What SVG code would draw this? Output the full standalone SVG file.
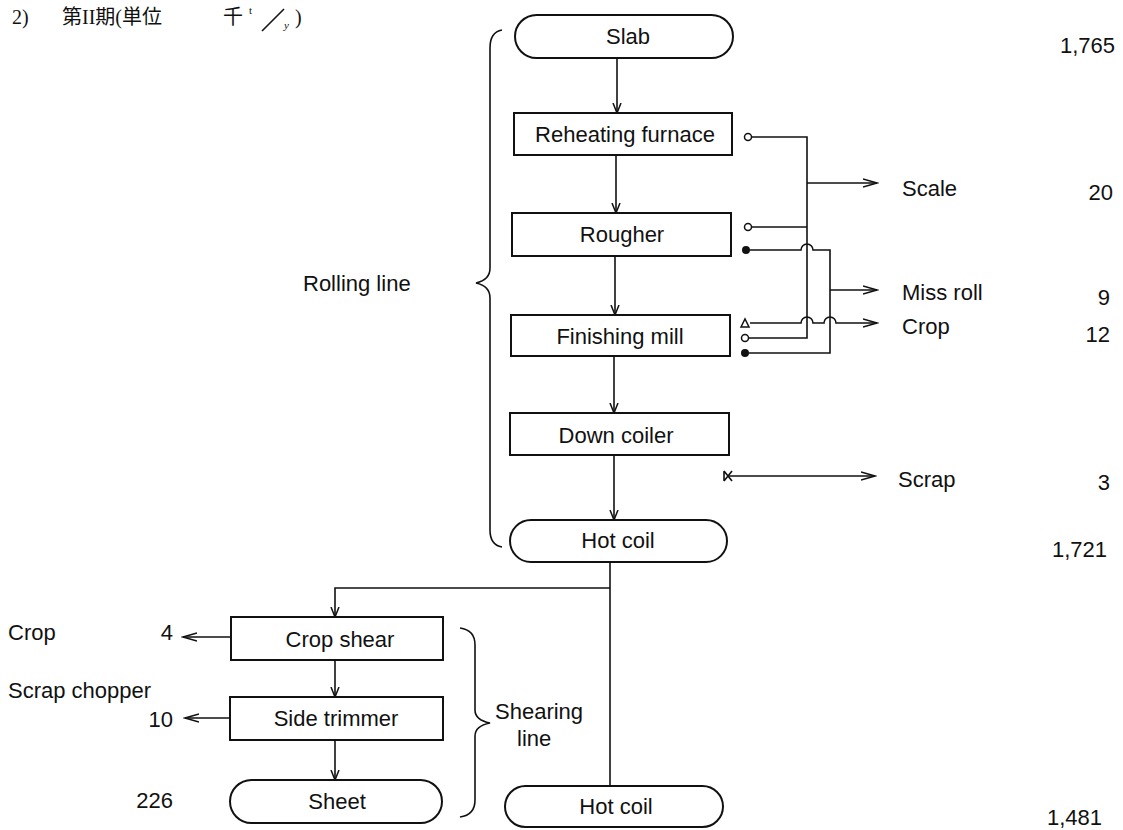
<svg xmlns="http://www.w3.org/2000/svg" width="1123" height="830" viewBox="0 0 1123 830">
<defs>
<style>
.box{fill:#fff;stroke:#111;stroke-width:2}
.ln{fill:none;stroke:#111;stroke-width:1.6}
.t{font-family:"Liberation Sans",Arial,sans-serif;font-size:22px;fill:#111}
.c{text-anchor:middle}
.r{text-anchor:end}
.ti{font-family:"Liberation Serif","Noto Sans CJK JP",serif;font-size:20px;fill:#111}
</style>
<marker id="ah" markerWidth="16" markerHeight="10" refX="14" refY="5" orient="auto" markerUnits="userSpaceOnUse">
<path d="M0,1 L14,5 L0,9" fill="none" stroke="#111" stroke-width="1.5"/>
</marker>
<marker id="ad" markerWidth="12" markerHeight="12" refX="10" refY="5" orient="auto" markerUnits="userSpaceOnUse">
<path d="M0,1 L10,5 L0,9" fill="none" stroke="#111" stroke-width="1.5"/>
</marker>
</defs>
<rect width="1123" height="830" fill="#fff"/>

<g id="title">
<text class="ti" x="12" y="24">2)</text>
<text class="ti" x="62" y="24">第II期(単位</text>
<text class="ti" x="223" y="24">千</text>
<text class="ti" x="249" y="14" style="font-size:11px">t</text>
<path class="ln" d="M262,31 L284,9"/>
<text class="ti" x="284" y="29" style="font-size:11px;font-style:italic">y</text>
<text class="ti" x="295" y="24">)</text>
</g>

<g id="connectors">
<line class="ln" x1="617" y1="58" x2="617" y2="113" marker-end="url(#ad)"/>
<line class="ln" x1="616" y1="155" x2="616" y2="213" marker-end="url(#ad)"/>
<line class="ln" x1="615" y1="256" x2="615" y2="315" marker-end="url(#ad)"/>
<line class="ln" x1="614" y1="356" x2="614" y2="413" marker-end="url(#ad)"/>
<line class="ln" x1="614" y1="455" x2="614" y2="520" marker-end="url(#ad)"/>
<path class="ln" d="M610,562 L610,788"/>
<path class="ln" d="M610,588 L335,588 L335,617" marker-end="url(#ad)"/>
<line class="ln" x1="335" y1="660" x2="335" y2="697" marker-end="url(#ad)"/>
<line class="ln" x1="335" y1="740" x2="335" y2="780" marker-end="url(#ad)"/>
<line class="ln" x1="231" y1="637" x2="183" y2="637" marker-end="url(#ah)"/>
<line class="ln" x1="230" y1="718" x2="185" y2="718" marker-end="url(#ah)"/>
<circle cx="748" cy="137" r="3.5" fill="#fff" stroke="#111" stroke-width="1.5"/>
<circle cx="748" cy="227" r="3.5" fill="#fff" stroke="#111" stroke-width="1.5"/>
<circle cx="746" cy="250" r="4" fill="#111"/>
<path d="M741,327 L745,319 L749,327 Z" fill="#fff" stroke="#111" stroke-width="1.5"/>
<circle cx="745" cy="338" r="3.5" fill="#fff" stroke="#111" stroke-width="1.5"/>
<circle cx="745" cy="353" r="4" fill="#111"/>
<path class="ln" d="M752,137 L807,137 L807,338 L749,338"/>
<path class="ln" d="M752,227 L807,227"/>
<line class="ln" x1="807" y1="183" x2="877" y2="183" marker-end="url(#ah)"/>
<path class="ln" d="M750,250 L801,250 A6,6 0 0 1 813,250 L830,250 L830,353 L749,353"/>
<line class="ln" x1="830" y1="290" x2="877" y2="290" marker-end="url(#ah)"/>
<path class="ln" d="M750,323 L801,323 A6,6 0 0 1 813,323 L824,323 A6,6 0 0 1 836,323 L877,323" marker-end="url(#ah)"/>
<path class="ln" d="M724,471 L732,481 M724,481 L732,471 M724,471 L724,481"/>
<line class="ln" x1="728" y1="476" x2="875" y2="476" marker-end="url(#ah)"/>
<path class="ln" d="M502,30 Q490,32 490,48 L490,268 Q490,280 476,283 Q490,286 490,298 L490,530 Q490,545 502,547"/>
<path class="ln" d="M460,628 Q475,630 475,645 L475,710 Q475,720 490,723 Q475,726 475,736 L475,800 Q475,815 460,817"/>
</g>

<g id="slab"><rect class="box" x="515" y="15" width="218" height="43" rx="21.5"/><text class="t c" x="628" y="44">Slab</text></g>
<g id="reheating"><rect class="box" x="514" y="113" width="218" height="42"/><text class="t c" x="625" y="142">Reheating furnace</text></g>
<g id="rougher"><rect class="box" x="512" y="213" width="219" height="43"/><text class="t c" x="622" y="242">Rougher</text></g>
<g id="finishing"><rect class="box" x="511" y="315" width="219" height="41"/><text class="t c" x="620" y="344">Finishing mill</text></g>
<g id="downcoiler"><rect class="box" x="510" y="413" width="219" height="42"/><text class="t c" x="616" y="443">Down coiler</text></g>
<g id="hotcoil1"><rect class="box" x="510" y="520" width="217" height="42" rx="21"/><text class="t c" x="618" y="548">Hot coil</text></g>
<g id="cropshear"><rect class="box" x="231" y="617" width="212" height="43"/><text class="t c" x="340" y="647">Crop shear</text></g>
<g id="sidetrimmer"><rect class="box" x="230" y="697" width="213" height="43"/><text class="t c" x="336" y="726">Side trimmer</text></g>
<g id="sheet"><rect class="box" x="230" y="780" width="212" height="43" rx="21.5"/><text class="t c" x="337" y="809">Sheet</text></g>
<g id="hotcoil2"><rect class="box" x="505" y="786" width="218" height="41" rx="20.5"/><text class="t c" x="616" y="814">Hot coil</text></g>

<g id="labels">
<text class="t" x="303" y="291">Rolling line</text>
<text class="t" x="495" y="719">Shearing</text>
<text class="t" x="517" y="746">line</text>
<text class="t" x="902" y="196">Scale</text>
<text class="t" x="902" y="300">Miss roll</text>
<text class="t" x="902" y="334">Crop</text>
<text class="t" x="898" y="487">Scrap</text>
<text class="t" x="8" y="640">Crop</text>
<text class="t r" x="173" y="640">4</text>
<text class="t" x="8" y="698">Scrap chopper</text>
<text class="t r" x="173" y="727">10</text>
<text class="t r" x="173" y="808">226</text>
<text class="t r" x="1115" y="53">1,765</text>
<text class="t r" x="1113" y="200">20</text>
<text class="t r" x="1110" y="305">9</text>
<text class="t r" x="1110" y="342">12</text>
<text class="t r" x="1110" y="490">3</text>
<text class="t r" x="1107" y="557">1,721</text>
<text class="t r" x="1102" y="825">1,481</text>
</g>
</svg>
